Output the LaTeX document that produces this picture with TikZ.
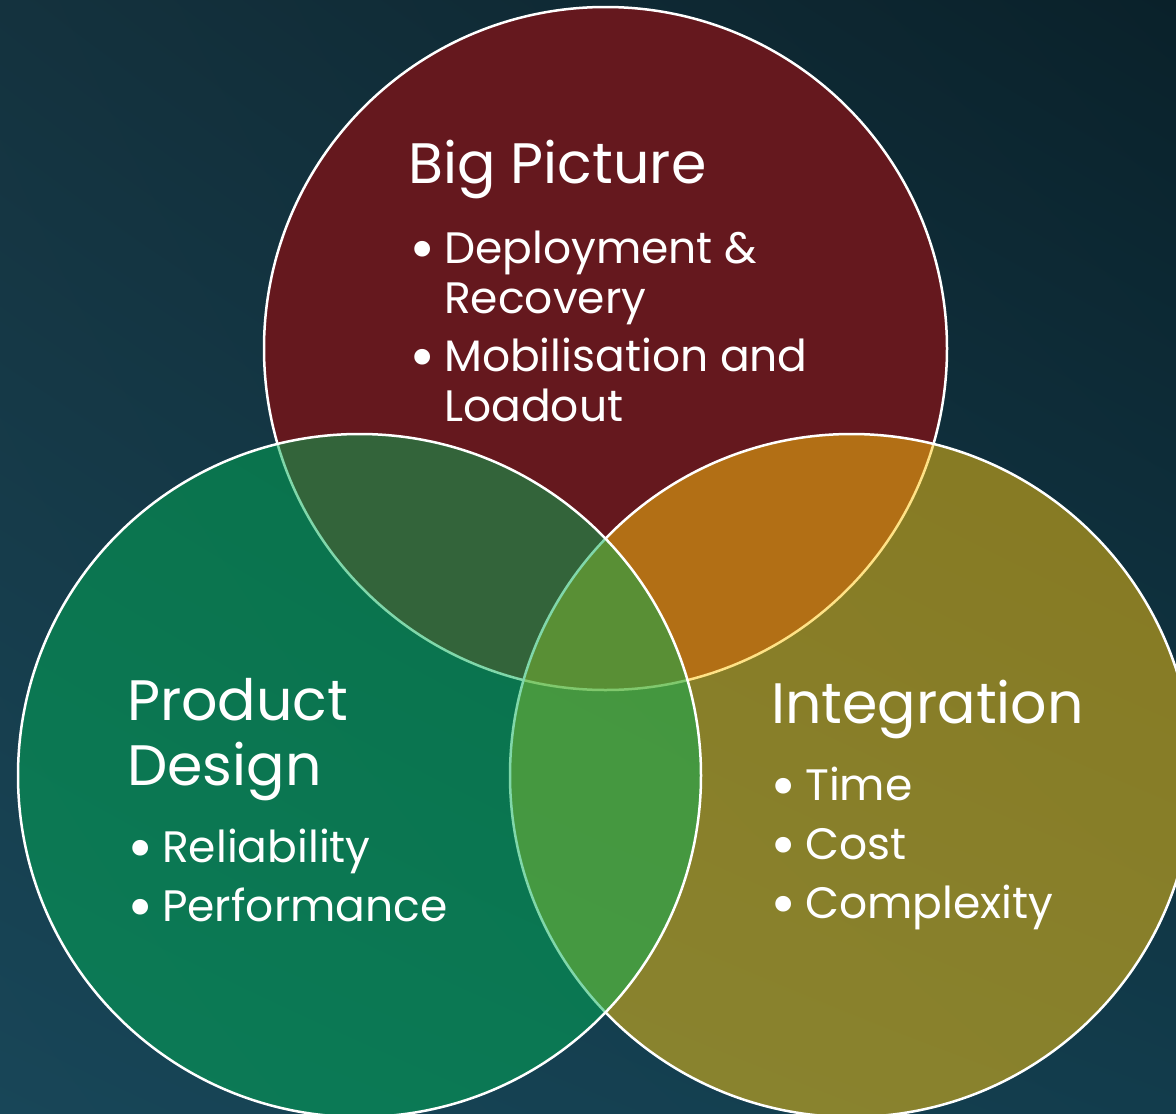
\documentclass[tikz,border=0pt]{standalone}
\usepackage{fontspec}
\setmainfont{Poppins}
\usetikzlibrary{shadings}
\definecolor{bgtl}{RGB}{20,50,62}
\definecolor{bgtr}{RGB}{10,33,42}
\definecolor{bgbl}{RGB}{24,70,88}
\definecolor{bgbr}{RGB}{18,60,76}
\definecolor{bigred}{RGB}{101,24,30}
\definecolor{prodgreen}{RGB}{2,176,86}
\definecolor{integold}{RGB}{255,199,14}
\newcommand{\bul}{\makebox[29pt][l]{\hspace{-5.5pt}\raisebox{-0.16em}{\scalebox{1.45}{\textbullet}}}}
\begin{document}
\begin{tikzpicture}[x=1pt,y=-1pt,
    ring/.style={draw=white,line width=2.5pt},
    title/.style={anchor=base west,text=white,inner sep=0pt,font=\fontsize{57}{64}\selectfont},
    item/.style={anchor=base west,text=white,inner sep=0pt,font=\fontsize{44}{50}\selectfont}]
    \useasboundingbox (0,0) rectangle (1176,1114);
    \clip (0,0) rectangle (1176,1114);
    \shade[upper left=bgtl,upper right=bgtr,lower left=bgbl,lower right=bgbr] (0,0) rectangle (1176,1114);
    % circle centres
    \coordinate (big) at (605.5,348.5);
    \coordinate (prod) at (359.5,775.5);
    \coordinate (integ) at (851.5,775.5);
    \fill [bigred] (big) circle (341.5pt);
    \draw [ring] (big) circle (341.5pt);
    \fill [integold, fill opacity=0.5] (integ) circle (341.5pt);
    \draw [ring] (integ) circle (341.5pt);
    \fill [prodgreen, fill opacity=0.5] (prod) circle (341.5pt);
    \draw [ring] (prod) circle (341.5pt);%
%
    \node [title] (bigt) at (408, 183) {Big Picture};
    \node [item] (dep) at (415, 263) {\bul Deployment \&};
    \node [item] (rec) at (444, 313) {Recovery};
    \node [item] (mob) at (415, 371) {\bul Mobilisation and};
    \node [item] (load) at (444, 421) {Loadout};%
%
    \node [title] (prodt) at (127, 720) {Product};
    \node [title] (prodd) at (127, 785) {Design};
    \node [item] (rel) at (133, 862) {\bul Reliability};
    \node [item] (perf) at (133, 921) {\bul Performance};%
%
    \node [title] (integt) at (771, 723) {Integration};
    \node [item] (time) at (776, 800) {\bul Time};
    \node [item] (cost) at (776, 859) {\bul Cost};
    \node [item] (cplx) at (776, 918) {\bul Complexity};
\end{tikzpicture}
\end{document}
